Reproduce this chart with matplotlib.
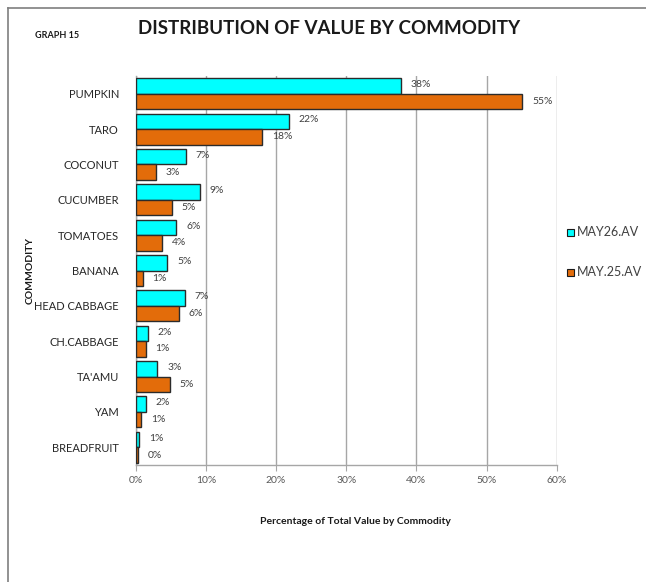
import matplotlib
matplotlib.use("Agg")
import matplotlib.pyplot as plt
from matplotlib.patches import Rectangle
from matplotlib.lines import Line2D
import numpy as np

plt.rcParams['font.family'] = ['Lato', 'DejaVu Sans']

categories = ["PUMPKIN", "TARO", "COCONUT", "CUCUMBER", "TOMATOES", "BANANA",
              "HEAD CABBAGE", "CH.CABBAGE", "TA'AMU", "YAM", "BREADFRUIT"]
may26 = [37.8, 21.8, 7.1, 9.2, 5.8, 4.5, 7.0, 1.7, 3.1, 1.5, 0.5]
may25 = [55.1, 18.0, 2.9, 5.2, 3.8, 1.0, 6.2, 1.4, 4.9, 0.8, 0.3]
may26_labels = ["38%", "22%", "7%", "9%", "6%", "5%", "7%", "2%", "3%", "2%", "1%"]
may25_labels = ["55%", "18%", "3%", "5%", "4%", "1%", "6%", "1%", "5%", "1%", "0%"]
xticks = [0, 10, 20, 30, 40, 50, 60]
xtick_labels = ["0%", "10%", "20%", "30%", "40%", "50%", "60%"]

W, H = 646, 582
fig = plt.figure(figsize=(W/100, H/100), dpi=100)
fig.patch.set_facecolor('white')

# outer frame (top and left edges only visible)
fig.lines.append(Line2D([8/W, 1.0], [1-8/H, 1-8/H], transform=fig.transFigure,
                        color='#7f7f7f', linewidth=1.2))
fig.lines.append(Line2D([8/W, 8/W], [0.0, 1-8/H], transform=fig.transFigure,
                        color='#7f7f7f', linewidth=1.2))

ax = fig.add_axes([135.7/W, 1-465/H, 421/W, 389/H])
n = len(categories)
y = np.arange(n)
h = 0.4375
cyan = '#00FFFF'
orange = '#E36C0A'
ax.barh(y - h/2, may26, height=h, color=cyan, edgecolor='#2b2b2b', linewidth=1.0, zorder=3)
ax.barh(y + h/2, may25, height=h, color=orange, edgecolor='#2b2b2b', linewidth=1.0, zorder=3)

ax.set_ylim(n - 0.5, -0.5)
ax.set_xlim(0, 60)
ax.set_xticks(xticks)
ax.set_xticklabels(xtick_labels, fontsize=7.5, color='#595959')
ax.set_yticks(y)
ax.set_yticklabels(categories, fontsize=8, color='#262626')
ax.tick_params(axis='y', length=0, pad=12)
ax.tick_params(axis='x', length=4, color='#a6a6a6', direction='out', pad=4)
ax.grid(axis='x', color='#a6a6a6', linewidth=1.0, zorder=0)
for s in ['top', 'right']:
    ax.spines[s].set_visible(False)
for s in ['left', 'bottom']:
    ax.spines[s].set_color('#a6a6a6')
    ax.spines[s].set_linewidth(1.0)

for i in range(n):
    ax.annotate(may26_labels[i], (may26[i], y[i] - h/2), xytext=(7, 1), textcoords='offset points',
                fontsize=7.5, color='#404040', va='center', ha='left', zorder=4)
    ax.annotate(may25_labels[i], (may25[i], y[i] + h/2), xytext=(7, 0), textcoords='offset points',
                fontsize=7.5, color='#404040', va='center', ha='left', zorder=4)

fig.text(329/W, 1-29/H, "DISTRIBUTION OF VALUE BY COMMODITY", fontsize=13.5, fontweight='bold',
         ha='center', va='center', color='#1a1a1a')
fig.text(35/W, 1-35/H, "GRAPH 15", fontsize=6.5, fontweight='bold', ha='left', va='center',
         color='#1a1a1a')
fig.text(355/W, 1-522/H, "Percentage of Total Value by Commodity", fontsize=7.5, fontweight='bold',
         ha='center', va='center', color='#1a1a1a')
fig.text(30/W, 1-270/H, "COMMODITY", fontsize=7.5, fontweight='bold', rotation=90,
         ha='center', va='center', color='#1a1a1a')

# legend
for yy, col, lab in [(232, cyan, "MAY26.AV"), (272, orange, "MAY.25.AV")]:
    fig.patches.append(Rectangle((567/W, 1-(yy+3.5)/H), 7/W, 7/H, transform=fig.transFigure,
                                 facecolor=col, edgecolor='#1a1a1a', linewidth=0.8))
    fig.text(577/W, 1-yy/H, lab, fontsize=9, ha='left', va='center', color='#404040')

fig.savefig("out.png", dpi=100)
